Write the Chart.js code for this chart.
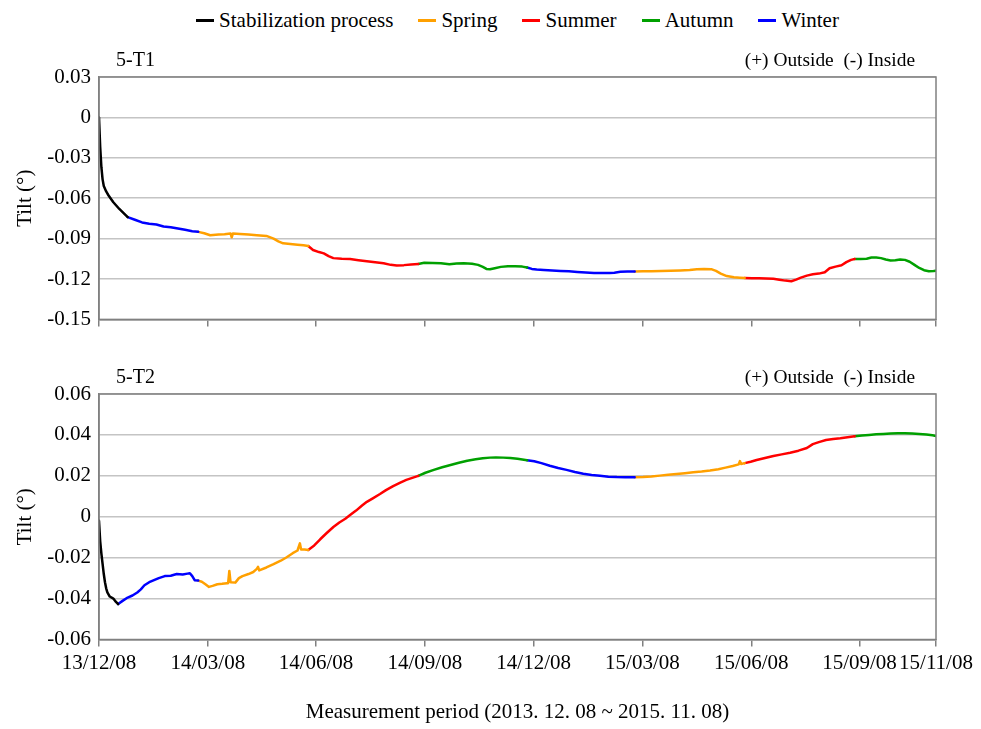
<!DOCTYPE html>
<html>
<head>
<meta charset="utf-8">
<script src="https://cdn.jsdelivr.net/npm/chart.js@4/dist/chart.umd.min.js"></script>
<style>
  html, body { margin: 0; padding: 0; background: #fff; }
  body { width: 981px; height: 729px; position: relative; overflow: hidden;
         font-family: "Liberation Serif", "Times New Roman", serif; }
  #legend { position: absolute; top: 8px; left: 99px; width: 837px; height: 24px;
            display: flex; justify-content: center; align-items: center;
            font-size: 21px; line-height: 24px; color: #000; white-space: pre; }
  #legend .item { display: flex; align-items: center; margin-right: 25px; }
  #legend .item:last-child { margin-right: 0; }
  #legend .sw { display: inline-block; width: 18px; height: 3px; margin-right: 5px; }
  canvas { position: absolute; left: 0; }
  #c1 { top: 0; }
  #c2 { top: 340px; }
</style>
</head>
<body>
<div id="legend"></div>
<canvas id="c1" width="981" height="340"></canvas>
<canvas id="c2" width="981" height="389"></canvas>
<script>
// Days counted from 2013-12-08; values are tilt in degrees.
const seasonNames = ['Stabilization process', 'Spring', 'Summer', 'Autumn', 'Winter'];
const seasonColors = ['#000000', '#FFA000', '#FF0000', '#00A000', '#0000FF'];

// tick positions along the record axis (in days) and their date labels
const xTickDays = [0, 91, 181.5, 272.5, 363.5, 454.5, 545.5, 636, 700];
const xTickLabels = ['13/12/08', '14/03/08', '14/06/08', '14/09/08', '14/12/08',
                     '15/03/08', '15/06/08', '15/09/08', '15/11/08'];
const t1Ticks = [-0.15, -0.12, -0.09, -0.06, -0.03, 0, 0.03];
const t2Ticks = [-0.06, -0.04, -0.02, 0, 0.02, 0.04, 0.06];

// ---- 5-T1 ----
const t1Stab = [[0,0],[1,-0.022],[2,-0.037],[3,-0.046],[4,-0.051],[6,-0.055],[8,-0.058],
  [12,-0.063],[17,-0.068],[24,-0.074]];
const t1Winter14 = [[24,-0.074],[30,-0.076],[36,-0.078],[42,-0.079],[48,-0.0795],[54,-0.081],
  [60,-0.0815],[66,-0.0825],[72,-0.0835],[78,-0.0845],[83,-0.085]];
const t1Spring14 = [[83,-0.085],[88,-0.086],[93,-0.0875],[100,-0.087],[105,-0.0868],[110,-0.0862],
  [111,-0.089],[112,-0.0862],[118,-0.0865],[125,-0.087],[132,-0.0875],[140,-0.088],[146,-0.090],
  [150,-0.092],[154,-0.0935],[160,-0.094],[166,-0.0945],[171,-0.095],[175,-0.0955]];
const t1Summer14 = [[175,-0.0955],[179,-0.0985],[184,-0.100],[188,-0.101],[192,-0.103],[196,-0.1045],
  [203,-0.105],[210,-0.1052],[217,-0.106],[224,-0.1068],[231,-0.1075],[238,-0.1083],[244,-0.1095],
  [249,-0.110],[255,-0.1097],[261,-0.1092],[267,-0.1088]];
const t1Autumn14 = [[267,-0.1088],[272,-0.108],[279,-0.1082],[286,-0.1083],[293,-0.109],[299,-0.1085],
  [305,-0.1083],[312,-0.1087],[317,-0.1095],[321,-0.111],[324,-0.1125],[327,-0.1128],[331,-0.112],
  [336,-0.111],[342,-0.1105],[348,-0.1106],[354,-0.1108],[358,-0.1115]];
const t1Winter15 = [[358,-0.1115],[362,-0.1125],[366,-0.113],[372,-0.1133],[379,-0.1137],[386,-0.114],
  [393,-0.1143],[400,-0.1148],[407,-0.1152],[414,-0.1155],[421,-0.1156],[427,-0.1155],[431,-0.1153],
  [436,-0.1147],[442,-0.1145],[448,-0.1144]];
const t1Spring15 = [[448,-0.1144],[455,-0.1143],[462,-0.1142],[470,-0.114],[478,-0.1138],[486,-0.1136],
  [494,-0.1133],[500,-0.1128],[506,-0.1125],[512,-0.1127],[516,-0.114],[520,-0.116],[525,-0.1178],
  [531,-0.1187],[536,-0.119],[540,-0.1192]];
const t1Summer15 = [[540,-0.1192],[546,-0.1195],[552,-0.1195],[558,-0.1197],[564,-0.1198],[569,-0.1205],
  [574,-0.1212],[579,-0.1217],[583,-0.1205],[587,-0.119],[592,-0.1175],[597,-0.1165],[602,-0.116],
  [607,-0.115],[611,-0.112],[616,-0.1108],[621,-0.1098],[625,-0.1075],[629,-0.1058],[632,-0.1052]];
const t1Autumn15 = [[632,-0.1052],[637,-0.1052],[642,-0.105],[646,-0.104],[650,-0.1041],[654,-0.1045],
  [658,-0.1055],[662,-0.1062],[666,-0.106],[670,-0.1055],[674,-0.1058],[678,-0.1072],[682,-0.1095],
  [686,-0.1118],[690,-0.1135],[694,-0.1143],[698,-0.114],[700,-0.1138]];

// ---- 5-T2 ----
const t2Stab = [[0,-0.002],[1,-0.012],[2,-0.018],[3,-0.023],[4,-0.028],[5,-0.032],[6,-0.035],
  [7,-0.037],[9,-0.039],[12,-0.040],[14,-0.0415],[16,-0.0427]];
const t2Winter14 = [[16,-0.0427],[20,-0.041],[24,-0.0395],[28,-0.0385],[32,-0.037],[35,-0.0355],
  [38,-0.0335],[42,-0.032],[46,-0.031],[50,-0.030],[55,-0.029],[60,-0.0288],[65,-0.028],[70,-0.0282],
  [74,-0.0278],[76,-0.0276],[78,-0.029],[80,-0.031],[83,-0.0312]];
const t2Spring14 = [[83,-0.0312],[86,-0.0318],[89,-0.033],[92,-0.0343],[95,-0.0338],[99,-0.033],
  [103,-0.0328],[107,-0.0325],[108,-0.0325],[109,-0.0265],[110,-0.032],[114,-0.0322],[117,-0.030],
  [120,-0.029],[125,-0.028],[129,-0.027],[132,-0.0255],[133,-0.0245],[134,-0.0262],[140,-0.0248],
  [146,-0.0232],[152,-0.0215],[157,-0.0198],[162,-0.0178],[166,-0.0165],[168,-0.013],[169,-0.016],
  [172,-0.016],[175,-0.0162]];
const t2Summer14 = [[175,-0.0162],[180,-0.014],[185,-0.011],[190,-0.0082],[196,-0.005],[201,-0.0028],
  [206,-0.001],[210,0.0008],[215,0.003],[220,0.0055],[224,0.0073],[229,0.009],[235,0.0111],
  [240,0.013],[246,0.015],[252,0.0167],[257,0.018],[262,0.019],[267,0.020]];
const t2Autumn14 = [[267,0.020],[273,0.0215],[280,0.0229],[287,0.0242],[294,0.0253],[301,0.0264],
  [308,0.0274],[315,0.0281],[321,0.0286],[327,0.0289],[332,0.029],[338,0.0289],[344,0.0287],
  [350,0.0283],[358,0.0276]];
const t2Winter15 = [[358,0.0276],[364,0.0271],[370,0.0262],[377,0.0249],[384,0.0238],[391,0.0229],
  [398,0.0219],[405,0.021],[412,0.0204],[419,0.020],[426,0.0196],[433,0.0194],[440,0.0193],[448,0.0193]];
const t2Spring15 = [[448,0.0193],[455,0.0194],[462,0.0197],[469,0.0201],[476,0.0205],[483,0.0209],
  [490,0.0213],[497,0.0217],[504,0.0221],[511,0.0226],[518,0.0232],[524,0.024],[530,0.0248],
  [535,0.0256],[536,0.0272],[537,0.0258],[540,0.0262]];
const t2Summer15 = [[540,0.0262],[545,0.0269],[550,0.0277],[557,0.0287],[564,0.0297],[571,0.0305],
  [578,0.0313],[585,0.0323],[592,0.0336],[597,0.0355],[602,0.0365],[608,0.0375],[614,0.038],
  [620,0.0384],[626,0.0389],[632,0.0393]];
const t2Autumn15 = [[632,0.0393],[638,0.0397],[644,0.040],[650,0.0403],[656,0.0405],[662,0.0407],
  [668,0.0408],[674,0.0408],[680,0.0407],[686,0.0405],[692,0.0402],[697,0.0398],[700,0.0395]];

// season index for each segment, in time order (0 stab, 1 spring, 2 summer, 3 autumn, 4 winter)
const segmentSeasons = [0, 4, 1, 2, 3, 4, 1, 2, 3];
const t1Segments = [t1Stab, t1Winter14, t1Spring14, t1Summer14, t1Autumn14, t1Winter15, t1Spring15, t1Summer15, t1Autumn15];
const t2Segments = [t2Stab, t2Winter14, t2Spring14, t2Summer14, t2Autumn14, t2Winter15, t2Spring15, t2Summer15, t2Autumn15];

const FONT = '"Liberation Serif", "Times New Roman", serif';
const AXIS_GREY = '#808080';
const TEXT_SIZE = 21;

// shared legend
const legendEl = document.getElementById('legend');
seasonNames.forEach((name, i) => {
  const item = document.createElement('span');
  item.className = 'item';
  const sw = document.createElement('span');
  sw.className = 'sw';
  sw.style.background = seasonColors[i];
  const label = document.createElement('span');
  label.textContent = name;
  item.appendChild(sw);
  item.appendChild(label);
  legendEl.appendChild(item);
});

// frame around the plot area plus the panel captions
const panelFrame = {
  id: 'panelFrame',
  afterDraw(chart, args, opts) {
    const { ctx, chartArea: a } = chart;
    ctx.save();
    ctx.strokeStyle = AXIS_GREY;
    ctx.lineWidth = 1.5;
    ctx.strokeRect(a.left, a.top, a.right - a.left, a.bottom - a.top);
    ctx.fillStyle = '#000';
    ctx.font = '20px ' + FONT;
    ctx.textBaseline = 'middle';
    ctx.textAlign = 'left';
    ctx.fillText(opts.name, a.left + 17, a.top - 16);
    ctx.font = '19.4px ' + FONT;
    ctx.textAlign = 'right';
    ctx.fillText(opts.note, a.right - 21, a.top - 16);
    ctx.restore();
  }
};

function fmtTick(v) {
  if (Math.abs(v) < 1e-9) return '0';
  return v.toFixed(2);
}

function makeChart(canvasId, segments, yTicks, opt) {
  const datasets = segments.map((seg, i) => ({
    data: seg.map(([x, y]) => ({ x, y })),
    borderColor: seasonColors[segmentSeasons[i]],
    borderWidth: 2.5,
    borderJoinStyle: 'round',
    borderCapStyle: 'round',
    pointRadius: 0,
    tension: 0,
    fill: false
  }));
  return new Chart(document.getElementById(canvasId), {
    type: 'line',
    data: { datasets },
    options: {
      responsive: false,
      animation: false,
      devicePixelRatio: 1,
      layout: { padding: { top: opt.padTop, right: 45, left: 0, bottom: 0 } },
      plugins: {
        legend: { display: false },
        tooltip: { enabled: false },
        panelFrame: { name: opt.name, note: '(+) Outside  (-) Inside' }
      },
      scales: {
        x: {
          type: 'linear',
          min: 0,
          max: 700,
          afterBuildTicks: s => { s.ticks = xTickDays.map(v => ({ value: v })); },
          afterFit: s => { s.height = opt.xHeight; },
          grid: { drawOnChartArea: false, drawTicks: true, tickLength: 7, color: AXIS_GREY, lineWidth: 1.5 },
          border: { display: true, color: AXIS_GREY, width: 1.5 },
          ticks: {
            display: opt.showX,
            autoSkip: false,
            maxRotation: 0,
            padding: 4,
            color: '#000',
            font: { family: FONT, size: TEXT_SIZE },
            callback: (v, i) => xTickLabels[i]
          },
          title: {
            display: opt.showX,
            text: 'Measurement period (2013. 12. 08 ~ 2015. 11. 08)',
            color: '#000',
            font: { family: FONT, size: TEXT_SIZE },
            padding: { top: 0, bottom: 4 }
          }
        },
        y: {
          min: yTicks[0],
          max: yTicks[yTicks.length - 1],
          afterBuildTicks: s => { s.ticks = yTicks.map(v => ({ value: v })); },
          afterFit: s => { s.width = 99; },
          grid: { color: '#c4c4c4', lineWidth: 1.5, drawTicks: false },
          border: { display: true, color: AXIS_GREY, width: 1.5 },
          ticks: {
            padding: 8,
            color: '#000',
            font: { family: FONT, size: TEXT_SIZE },
            callback: v => fmtTick(v)
          },
          title: {
            display: true,
            text: 'Tilt (°)',
            color: '#000',
            font: { family: FONT, size: TEXT_SIZE },
            padding: { top: 13, bottom: 0 }
          }
        }
      }
    },
    plugins: [panelFrame]
  });
}

makeChart('c1', t1Segments, t1Ticks, { name: '5-T1', padTop: 77, xHeight: 17, showX: false });
makeChart('c2', t2Segments, t2Ticks, { name: '5-T2', padTop: 54, xHeight: 89.5, showX: true });
</script>
</body>
</html>
